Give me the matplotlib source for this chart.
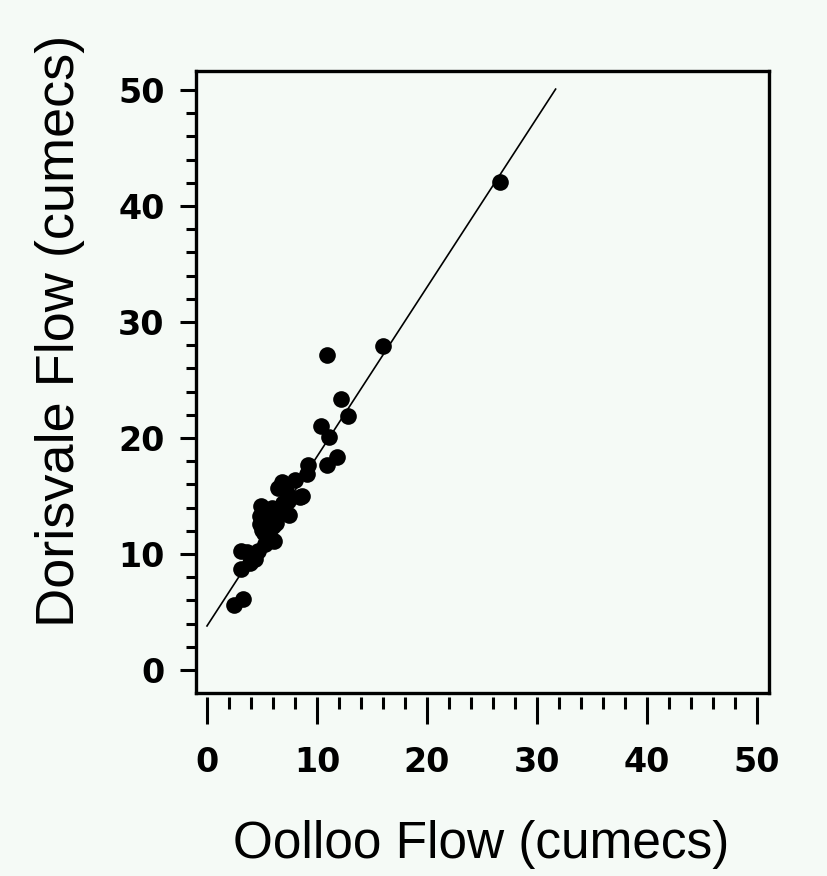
import matplotlib
matplotlib.use("Agg")
import numpy as np
import matplotlib.pyplot as plt
from matplotlib.ticker import MultipleLocator

# Daily flows at the two gauging stations (cumecs)
oolloo = [2.5, 3.3, 3.1, 3.1, 3.9, 4.4, 4.6, 5.3, 5.4, 5.7, 4.8, 5.0, 4.8, 4.9,
          5.7, 6.0, 6.3, 6.6, 7.5, 8.5, 6.5, 6.8, 7.2, 8.0, 8.6, 9.1, 9.2,
          10.9, 11.8, 10.4, 11.1, 12.2, 12.8, 10.9, 16.0, 26.6,
          4.2, 5.5, 6.1, 6.9, 7.4, 5.2, 3.6, 5.9]
dorisvale = [5.6, 6.1, 8.7, 10.3, 9.2, 9.6, 10.3, 10.9, 11.6, 11.5, 12.6, 12.1,
             13.3, 14.1, 13.8, 12.4, 12.7, 13.5, 13.4, 14.9, 15.7, 16.2, 15.4,
             16.4, 15.0, 16.9, 17.7, 17.7, 18.4, 21.0, 20.1, 23.4, 21.9, 27.2,
             27.9, 42.1,
             10.0, 13.0, 11.1, 14.4, 14.6, 11.8, 10.2, 14.0]

# fitted line drawn across the observed range
fit_intercept = 3.8
fit_slope = 1.46
fit_x = [0.0, 31.7]

xticks = [0, 10, 20, 30, 40, 50]
yticks = [0, 10, 20, 30, 40, 50]

bg = "#f5faf6"
tick_font = ["DejaVu Sans Condensed", "DejaVu Sans"]
label_font = ["Liberation Sans", "DejaVu Sans"]

fig = plt.figure(figsize=(8.28, 8.76), dpi=100, facecolor=bg)
ax = fig.add_axes([0.2367, 0.2089, 0.692, 0.710], facecolor=bg)

ax.plot(oolloo, dorisvale, linestyle=" ", marker="o", markersize=12,
        color="black", markeredgewidth=0)
fx = np.array(fit_x)
ax.plot(fx, fit_intercept + fit_slope * fx, color="black", linewidth=1.2)

ax.set_xlim(-1.0, 51.1)
ax.set_ylim(-1.98, 51.64)

for side in ["left", "top", "right"]:
    ax.spines[side].set_linewidth(2.4)
# x ticks hang slightly below the frame, so the frame bottom is drawn separately
ax.spines["bottom"].set_position(("outward", 3))
ax.spines["bottom"].set_visible(False)
ax.plot([0, 1], [0, 0], transform=ax.transAxes, color="black",
        linewidth=2.4, clip_on=False, solid_capstyle="projecting")

ax.set_xticks(xticks)
ax.set_yticks(yticks)
ax.xaxis.set_minor_locator(MultipleLocator(2))
ax.yaxis.set_minor_locator(MultipleLocator(2))
ax.tick_params(axis="x", which="major", length=19.5, width=2.2, pad=16)
ax.tick_params(axis="x", which="minor", length=8.6, width=2.2)
ax.tick_params(axis="y", which="major", length=11.5, width=2.2, pad=11)
ax.tick_params(axis="y", which="minor", length=7.2, width=2.2)

for lab in ax.get_xticklabels() + ax.get_yticklabels():
    lab.set_fontfamily(tick_font)
    lab.set_fontweight("bold")
    lab.set_fontsize(24)

fig.text(0.581, 0.020, "Oolloo Flow (cumecs)", ha="center", va="baseline",
         fontsize=37, family=label_font)
fig.text(0.073, 0.622, "Dorisvale Flow (cumecs)", ha="center", va="center",
         rotation=90, fontsize=39, family=label_font)

fig.savefig("out.png", dpi=100, facecolor=bg)
